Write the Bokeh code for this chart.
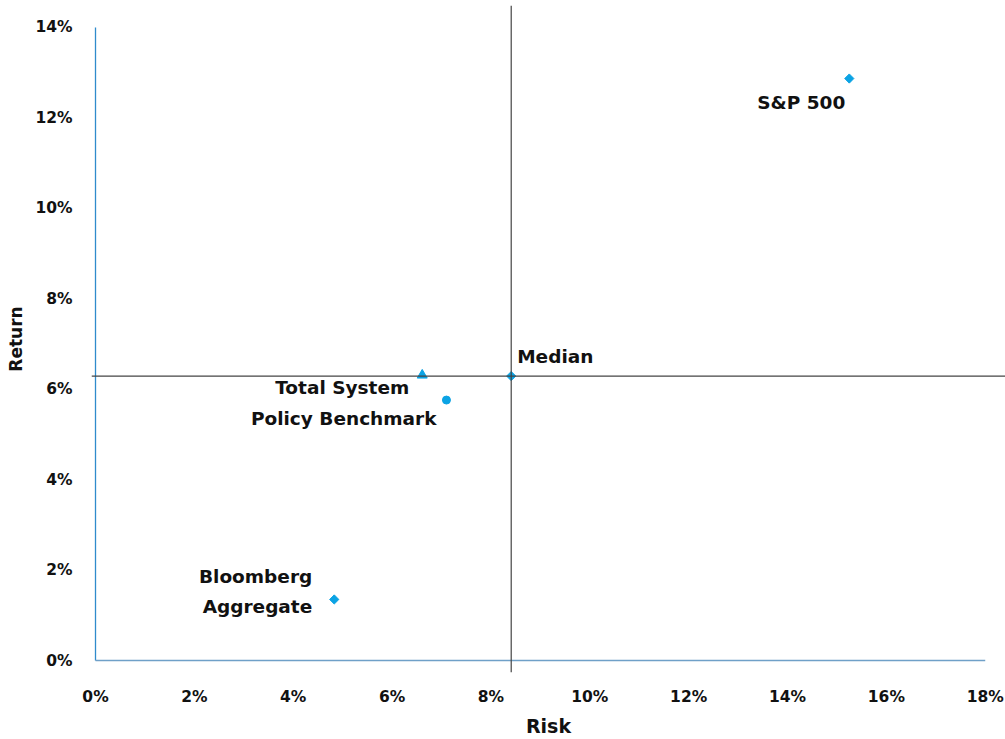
from bokeh.plotting import figure
from bokeh.models import ColumnDataSource, Range1d, Span, FixedTicker, CustomJSTickFormatter
from bokeh.core.properties import value
from bokeh.embed import file_html
from bokeh.resources import INLINE

# ---- data ----
names = ["S&P 500", "Total System", "Policy Benchmark", "Bloomberg\nAggregate", "Median"]
risk = [15.25, 6.61, 7.10, 4.83, 8.41]
ret = [12.87, 6.31, 5.76, 1.35, 6.29]
markers = ["square", "triangle", "circle", "square", "square"]
median_risk = 8.41
median_return = 6.29
x_ticks = [0, 2, 4, 6, 8, 10, 12, 14, 16, 18]
y_ticks = [0, 2, 4, 6, 8, 10, 12, 14]

# ---- styles ----
FONT = "DejaVu Sans"
BLUE = "#0ba3e4"
label_dx = [-4, -13, -10, -22, 6]
label_dy = [24, 12, 18, -8, -20]
label_align = ["right", "right", "right", "right", "left"]
marker_size = [6.5, 10, 8, 6.5, 6.5]
marker_angle = [0.785398, 0, 0, 0.785398, 0.785398]

p = figure(width=1005, height=739, output_backend="svg", toolbar_location=None,
           x_range=Range1d(-0.081, 18.41), y_range=Range1d(-0.265, 14.485),
           min_border_left=91, min_border_right=0, min_border_top=5, min_border_bottom=66)
p.outline_line_color = None
p.xgrid.visible = False
p.ygrid.visible = False
p.background_fill_color = "white"
p.border_fill_color = "white"

for ax in (p.xaxis[0], p.yaxis[0]):
    ax.axis_line_color = None
    ax.major_tick_line_color = None
    ax.minor_tick_line_color = None
    ax.major_tick_out = 0
    ax.major_tick_in = 0
    ax.minor_tick_out = 0
    ax.major_label_text_font = FONT
    ax.major_label_text_font_style = "bold"
    ax.major_label_text_font_size = "15.5px"
    ax.major_label_text_color = "#111111"
    ax.axis_label_text_font = FONT
    ax.axis_label_text_font_style = "bold"
    ax.axis_label_text_color = "#111111"
    ax.formatter = CustomJSTickFormatter(code="return tick.toFixed(0) + '%';")

p.xaxis.axis_label_text_font_size = "19px"
p.yaxis.axis_label_text_font_size = "17px"
p.xaxis.ticker = FixedTicker(ticks=x_ticks)
p.yaxis.ticker = FixedTicker(ticks=y_ticks)
p.xaxis.axis_label = "Risk"
p.yaxis.axis_label = "Return"
p.xaxis.major_label_standoff = 15
p.yaxis.major_label_standoff = 19
p.xaxis.axis_label_standoff = 6
p.yaxis.axis_label_standoff = 6

# drawn axis lines
p.segment(x0=[x_ticks[0]], y0=[y_ticks[0]], x1=[x_ticks[0]], y1=[y_ticks[-1]],
          line_color="#2f8bcc", line_width=1.3)
p.segment(x0=[x_ticks[0]], y0=[y_ticks[0]], x1=[x_ticks[-1]], y1=[y_ticks[0]],
          line_color="#6fa0c8", line_width=1.6)

# median cross lines
p.add_layout(Span(location=median_risk, dimension="height", line_color="#444444", line_width=1.2))
p.add_layout(Span(location=median_return, dimension="width", line_color="#444444", line_width=1.2))

src = ColumnDataSource(dict(x=risk, y=ret, name=names, marker=markers, size=marker_size,
                            angle=marker_angle, dx=label_dx, dy=label_dy, align=label_align))
p.scatter(x="x", y="y", marker="marker", size="size", angle="angle", source=src,
          fill_color=BLUE, line_color=BLUE)
p.text(x="x", y="y", text="name", source=src, x_offset="dx", y_offset="dy",
       text_align="align", text_baseline="middle", text_font=value(FONT),
       text_font_style="bold", text_font_size="18.5px", text_color="#111111",
       text_line_height=1.45)

open("out.html", "w").write(file_html(p, INLINE))
